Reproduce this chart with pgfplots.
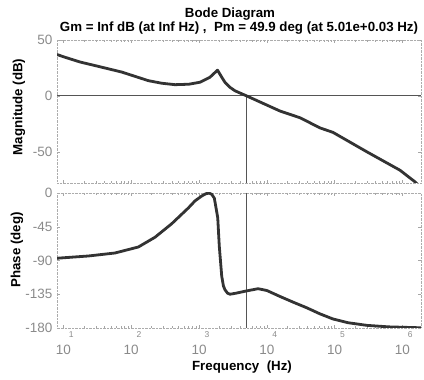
\documentclass[border=0pt]{standalone}
\usepackage{fontspec}
\setmainfont{Liberation Sans}
\usepackage{pgfplots}
\pgfplotsset{compat=1.18}
\definecolor{tickgray}{HTML}{8A8A8A}
\definecolor{curve}{HTML}{333333}
\definecolor{refl}{HTML}{555555}
\newcommand{\xl}[1]{\makebox[0pt]{10}\makebox[0pt][l]{\hspace{5.5pt}\raisebox{17pt}{\fontsize{8.5}{8.5}\selectfont #1}}}
\begin{document}
\begin{tikzpicture}
\useasboundingbox (0pt,0pt) rectangle (424pt,380pt);
% Magnitude
\begin{axis}[scale only axis, width=364pt, height=143pt, at={(57pt,197pt)}, anchor=south west,
  xmode=log, log basis x=10, xmin=8.04, xmax=1880000,
  ymin=-78, ymax=50, ytick={-50,0,50},
  xtick={10,100,1000,10000,100000,1000000}, xticklabels={},
  minor xtick={20,30,40,50,60,70,80,90,200,300,400,500,600,700,800,900,2000,3000,4000,5000,6000,7000,8000,9000,20000,30000,40000,50000,60000,70000,80000,90000,200000,300000,400000,500000,600000,700000,800000,900000},
  axis line style={gray!65, densely dotted},
  tick style={gray!70, solid, line width=0.4pt},
  tick align=inside, major tick length=3pt, minor tick length=1.6pt,
  ticklabel style={font=\fontsize{13.5}{13.5}\selectfont, color=tickgray},
  /pgf/number format/assume math mode=true,
  yticklabel style={xshift=-1pt}]
\addplot[refl, line width=0.9pt, forget plot] coordinates {(8.04,0) (1880000,0)};
\addplot[refl, line width=0.9pt, forget plot] coordinates {(5012,0) (5012,-78)};
\addplot[curve, line width=2.8pt, line join=round, line cap=round] table[x expr={10^(\thisrowno{0})}, y index=1] {
lf db
0.905 37
1.0 35
1.245 30.3
1.5 26.6
1.86 21.3
2.252 13.6
2.45 11.3
2.646 10
2.85 10.4
3.015 12.2
3.162 16.7
3.273 23.0
3.335 16.7
3.383 12.1
3.457 7.6
3.531 4.5
3.70 0
4.195 -13.6
4.49 -19.6
4.785 -28.7
4.976 -32.7
5.473 -50
5.965 -66.6
6.186 -77
6.25 -81
};
\end{axis}
% Phase
\begin{axis}[scale only axis, width=364pt, height=135pt, at={(57pt,52pt)}, anchor=south west,
  xmode=log, log basis x=10, xmin=8.04, xmax=1880000,
  ymin=-180, ymax=0, ytick={-180,-135,-90,-45,0},
  xtick={10,100,1000,10000,100000,1000000},
  xticklabels={\xl{1},\xl{2},\xl{3},\xl{4},\xl{5},\xl{6}},
  xticklabel style={inner sep=0pt, yshift=-3.5pt},
  minor xtick={20,30,40,50,60,70,80,90,200,300,400,500,600,700,800,900,2000,3000,4000,5000,6000,7000,8000,9000,20000,30000,40000,50000,60000,70000,80000,90000,200000,300000,400000,500000,600000,700000,800000,900000},
  axis line style={gray!65, densely dotted},
  tick style={gray!70, solid, line width=0.4pt},
  tick align=inside, major tick length=3pt, minor tick length=1.6pt,
  ticklabel style={font=\fontsize{13.5}{13.5}\selectfont, color=tickgray},
  /pgf/number format/assume math mode=true,
  yticklabel style={xshift=-1pt}]
\addplot[refl, line width=0.9pt, forget plot] coordinates {(8.04,-180) (1880000,-180)};
\addplot[refl, line width=0.9pt, forget plot] coordinates {(5012,0) (5012,-180)};
\addplot[curve, line width=2.8pt, line join=round, line cap=round] table[x expr={10^(\thisrowno{0})}, y index=1] {
lf ph
0.905 -87
1.367 -84
1.761 -80
2.105 -72
2.351 -59
2.597 -41
2.842 -20
2.941 -10.5
3.04 -4
3.10 -1
3.15 -0.2
3.19 -2
3.226 -7
3.255 -22
3.276 -33
3.299 -71
3.335 -111
3.36 -124
3.383 -129
3.42 -133.5
3.457 -135
3.55 -133.5
3.678 -131
3.87 -127.6
4.0 -130
4.195 -138
4.4 -146
4.588 -153
4.78 -161
4.976 -168
5.2 -173
5.478 -176.5
5.8 -178.5
6.186 -179.5
6.28 -179.7
};
\end{axis}
% Texts
\node[anchor=base, font=\fontsize{13.3}{13.3}\selectfont\bfseries] at (230pt,362pt) {Bode Diagram};
\node[anchor=base, font=\fontsize{13.3}{13.3}\selectfont\bfseries] at (239pt,348pt) {Gm = Inf dB (at Inf Hz) ,~ Pm = 49.9 deg (at 5.01e+0.03 Hz)};
\node[anchor=base, inner sep=0pt, font=\fontsize{13.3}{13.3}\selectfont\bfseries] at (242pt,9.5pt) {Frequency~~(Hz)};
\node[rotate=90, font=\fontsize{13.3}{13.3}\selectfont\bfseries] at (19pt,273pt) {Magnitude (dB)};
\node[rotate=90, font=\fontsize{13.3}{13.3}\selectfont\bfseries] at (17pt,130pt) {Phase (deg)};
\end{tikzpicture}
\end{document}
